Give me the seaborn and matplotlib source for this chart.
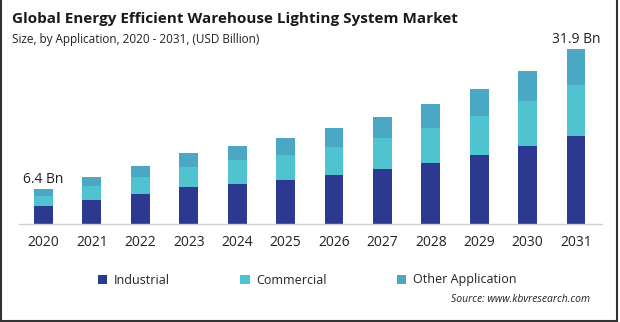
import matplotlib
matplotlib.use("Agg")
import matplotlib.pyplot as plt
import seaborn as sns
import numpy as np
import pandas as pd
from matplotlib.patches import Patch
from matplotlib.lines import Line2D

years = ["2020", "2021", "2022", "2023", "2024", "2025",
         "2026", "2027", "2028", "2029", "2030", "2031"]
industrial = [3.28, 4.37, 5.47, 6.74, 7.29, 8.02, 8.93, 10.0, 11.1, 12.58, 14.2, 16.0]
commercial = [1.82, 2.60, 3.10, 3.70, 4.37, 4.56, 5.10, 5.65, 6.38, 7.10, 8.20, 9.30]
other_app = [1.30, 1.58, 2.00, 2.50, 2.55, 3.10, 3.46, 3.83, 4.37, 4.92, 5.47, 6.60]
series_names = ["Industrial", "Commercial", "Other Application"]
first_label = "6.4 Bn"
last_label = "31.9 Bn"

colors = ["#2c3990", "#4fc3cf", "#4aa8c4"]

sns.set_theme(style="white")
plt.rcParams["font.family"] = ["Open Sans", "DejaVu Sans"]

W, H = 620, 322
fig = plt.figure(figsize=(W / 100, H / 100), dpi=100)
fig.patch.set_facecolor("white")

ax_left, ax_right = 19, 602
base_y, top_y = 224, 40
ax = fig.add_axes([ax_left / W, (H - base_y) / H, (ax_right - ax_left) / W, (base_y - top_y) / H])

df = pd.DataFrame({"year": years, "ind": industrial, "com": commercial, "oth": other_app})
df["c2"] = df["ind"] + df["com"]
df["c3"] = df["c2"] + df["oth"]

bw = 0.39
sns.barplot(data=df, x="year", y="c3", color=colors[2], saturation=1, width=bw, ax=ax, linewidth=0)
sns.barplot(data=df, x="year", y="c2", color=colors[1], saturation=1, width=bw, ax=ax, linewidth=0)
sns.barplot(data=df, x="year", y="ind", color=colors[0], saturation=1, width=bw, ax=ax, linewidth=0)

px_per_cat = 48.4
ax.set_xlim(-(43.5 - ax_left) / px_per_cat, 11 + (ax_right - 576) / px_per_cat)
ax.set_ylim(0, (base_y - top_y) / 5.486)

for s in ["top", "right", "left"]:
    ax.spines[s].set_visible(False)
ax.spines["bottom"].set_color("#d0d0d0")
ax.spines["bottom"].set_linewidth(1.0)
ax.set_yticks([])
ax.set_xlabel("")
ax.set_ylabel("")
ax.tick_params(axis="x", length=0, pad=8, labelsize=10, labelcolor="#222222")

ax.annotate(first_label, (0, df["c3"].iloc[0]), xytext=(0, 1.5), textcoords="offset points",
            ha="center", va="bottom", fontsize=10, color="#222222")
ax.annotate(last_label, (11, df["c3"].iloc[-1]), xytext=(0, 1.5), textcoords="offset points",
            ha="center", va="bottom", fontsize=10, color="#222222")

fig.text(12 / W, 1 - 19 / H, "Global Energy Efficient Warehouse Lighting System Market",
         fontsize=11, fontweight="bold", color="#1a1a1a", va="center", ha="left")
fig.text(12 / W, 1 - 40 / H, "Size, by Application, 2020 - 2031, (USD Billion)",
         fontsize=8.5, color="#222222", va="center", ha="left")

handles = [Patch(facecolor=c, edgecolor="none", label=n) for c, n in zip(colors, series_names)]
leg = fig.legend(handles=handles, loc="center left", bbox_to_anchor=(98 / W, 1 - 280 / H),
                 ncol=3, frameon=False, fontsize=9, handlelength=0.75, handleheight=0.75,
                 handletextpad=0.5, columnspacing=5.65, labelcolor="#222222",
                 borderpad=0, borderaxespad=0)

fig.text(590 / W, 1 - 300 / H, "Source: www.kbvresearch.com", fontsize=7.5, style="italic",
         color="#222222", ha="right", va="center")

bc = "#333333"
fig.add_artist(Line2D([1 / W, 1 / W], [0, 1], transform=fig.transFigure, color=bc, lw=1.5))
fig.add_artist(Line2D([617 / W, 617 / W], [0, 1], transform=fig.transFigure, color=bc, lw=1.5))
fig.add_artist(Line2D([0, 617 / W], [1 / H, 1 / H], transform=fig.transFigure, color=bc, lw=1.5))

fig.savefig("out.png", dpi=100, facecolor="white")
